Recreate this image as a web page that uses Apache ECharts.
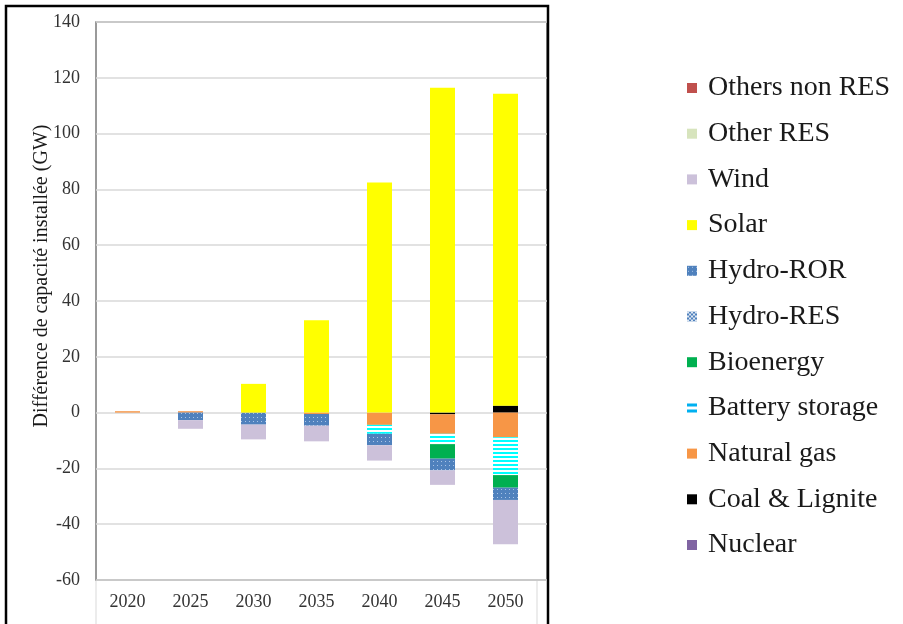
<!DOCTYPE html>
<html>
<head>
<meta charset="utf-8">
<script src="https://cdn.jsdelivr.net/npm/echarts@6/dist/echarts.min.js"></script>
<style>html,body{margin:0;padding:0;background:#fff}#c{width:903px;height:624px}</style>
</head>
<body>
<div id="c"></div>
<script>
// ---- data ----
var categories = ['2020','2025','2030','2035','2040','2045','2050'];
var nuclear      = [0, 0, 0, 0, 0, 0, 0];
var coalLignite  = [0, 0, 0, 0, 0, -0.6, 2.5];
var naturalGas   = [0.5, 0.5, 0, -0.5, -4.4, -7.0, -8.8];
var battery      = [0, 0, 0, 0, -3.2, -3.7, -13.6];
var bioenergy    = [0, 0, 0, 0, 0, -5.2, -4.5];
var hydroRES     = [0, 0, 0, 0, 0, 0, 0];
var hydroROR     = [0, -2.7, -4.3, -4.2, -4.1, -4.2, -4.4];
var solar        = [0, 0, 10.3, 33.1, 82.5, 116.4, 111.8];
var wind         = [0, -3.1, -5.3, -5.6, -5.5, -5.2, -15.9];
var otherRES     = [0, 0, 0, 0, 0, 0, 0];
var othersNonRES = [0, 0, 0, 0, 0, 0, 0];
var yTicks = [-60, -40, -20, 0, 20, 40, 60, 80, 100, 120, 140];

// ---- patterns ----
function tile(w, h, draw) {
  var c = document.createElement('canvas'); c.width = w; c.height = h;
  draw(c.getContext('2d')); return {image: c, repeat: 'repeat'};
}
var dotPattern = tile(4, 4, function (g) {
  g.fillStyle = '#4F81BD'; g.fillRect(0, 0, 4, 4);
  g.fillStyle = '#A9C4E6'; g.fillRect(1, 1, 1, 1);
});
var checkPattern = tile(4, 4, function (g) {
  g.fillStyle = '#4F81BD'; g.fillRect(0, 0, 4, 4);
  g.fillStyle = '#DCE6F2'; g.fillRect(0, 0, 2, 2); g.fillRect(2, 2, 2, 2);
});
var stripePattern = tile(4, 4, function (g) {
  g.fillStyle = '#FFFFFF'; g.fillRect(0, 0, 4, 4);
  g.fillStyle = '#00FFFF'; g.fillRect(0, 0, 4, 2);
});

var FONT = 'Liberation Serif';
function bar(name, data, color) {
  return {name: name, type: 'bar', stack: 'total', data: data, barWidth: 25,
          xAxisIndex: 1, yAxisIndex: 1, itemStyle: {color: color}, emphasis: {disabled: true}};
}

var chart = echarts.init(document.getElementById('c'), null, {renderer: 'canvas'});
chart.setOption({
  animation: false,
  backgroundColor: '#fff',
  grid: [
    {left: 96, right: 356, top: 22, bottom: 44, show: true, borderColor: '#7a7a7a', borderWidth: 1.5},
    {left: 96, right: 366, top: 22, bottom: 44}
  ],
  xAxis: [
    {gridIndex: 0, type: 'category', data: categories, show: false},
    {gridIndex: 1, type: 'category', data: categories,
     axisLine: {show: false}, axisTick: {show: false},
     axisLabel: {fontFamily: FONT, fontSize: 18, color: '#333', margin: 13}}
  ],
  yAxis: [
    {gridIndex: 0, type: 'value', min: yTicks[0], max: yTicks[yTicks.length - 1], interval: 20,
     axisLine: {show: false}, axisTick: {show: false},
     axisLabel: {fontFamily: FONT, fontSize: 18, color: '#333', margin: 16},
     splitLine: {lineStyle: {color: '#d9d9d9', width: 1.5}}},
    {gridIndex: 1, type: 'value', min: yTicks[0], max: yTicks[yTicks.length - 1], interval: 20, show: false,
     splitLine: {show: false}}
  ],
  legend: {
    orient: 'vertical', left: 687, top: 74, padding: 0, itemGap: 17.7,
    itemWidth: 10, itemHeight: 10, selectedMode: false,
    textStyle: {fontFamily: FONT, fontSize: 28, lineHeight: 26, color: '#1a1a1a', padding: [0, 0, 0, 6]},
    data: [
      {name: 'Others non RES', icon: 'rect'},
      {name: 'Other RES', icon: 'rect'},
      {name: 'Wind', icon: 'rect'},
      {name: 'Solar', icon: 'rect'},
      {name: 'Hydro-ROR', icon: 'rect'},
      {name: 'Hydro-RES', icon: 'rect'},
      {name: 'Bioenergy', icon: 'rect'},
      {name: 'Battery storage', icon: 'path://M0,0H10V3H0Z M0,6H10V9H0Z', itemStyle: {color: '#00B0F0'}},
      {name: 'Natural gas', icon: 'rect'},
      {name: 'Coal & Lignite', icon: 'rect'},
      {name: 'Nuclear', icon: 'rect'}
    ]
  },
  graphic: [
    {type: 'rect', shape: {x: 6, y: 6, width: 542, height: 640}, style: {fill: 'none', stroke: '#000', lineWidth: 2.5}, silent: true},
    {type: 'line', shape: {x1: 96, y1: 581, x2: 96, y2: 624}, style: {stroke: '#d9d9d9', lineWidth: 1}, silent: true},
    {type: 'line', shape: {x1: 537, y1: 581, x2: 537, y2: 624}, style: {stroke: '#d9d9d9', lineWidth: 1}, silent: true},
    {type: 'text', x: 42, y: 276, rotation: Math.PI / 2,
     style: {text: 'Différence de capacité installée (GW)', font: '20px "Liberation Serif"', fill: '#1a1a1a',
             textAlign: 'center', textVerticalAlign: 'middle'}, silent: true}
  ],
  series: [
    bar('Nuclear', nuclear, '#8064A2'),
    bar('Coal & Lignite', coalLignite, '#000000'),
    bar('Natural gas', naturalGas, '#F79646'),
    bar('Battery storage', battery, stripePattern),
    bar('Bioenergy', bioenergy, '#00B050'),
    bar('Hydro-RES', hydroRES, checkPattern),
    bar('Hydro-ROR', hydroROR, dotPattern),
    bar('Solar', solar, '#FFFF00'),
    bar('Wind', wind, '#CCC1DA'),
    bar('Other RES', otherRES, '#D7E4BD'),
    bar('Others non RES', othersNonRES, '#C0504D')
  ]
});
</script>
</body>
</html>
